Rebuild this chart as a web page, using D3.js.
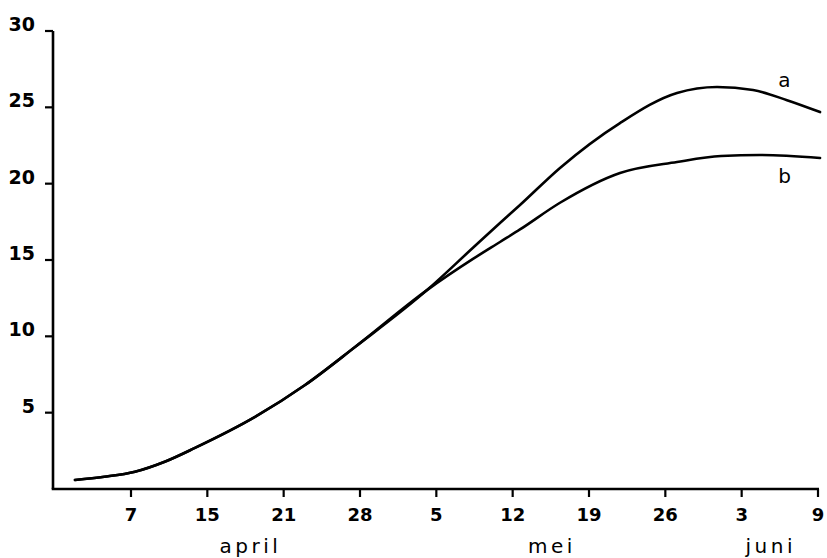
<!DOCTYPE html>
<html>
<head>
<meta charset="utf-8">
<script src="https://cdn.jsdelivr.net/npm/d3@7"></script>
<style>
  html, body { margin: 0; padding: 0; background: #fff; }
  svg { display: block; }
  text { font-family: "DejaVu Sans", "Liberation Sans", Arial, sans-serif; fill: #000; }
</style>
</head>
<body>
<svg id="chart" width="827" height="558"></svg>
<script>
// ---- data (x in tick-index units: 0 = 7 april ... 9 = 9 juni) ----
const xTickLabels = ["7", "15", "21", "28", "5", "12", "19", "26", "3", "9"];
const yTicks = [5, 10, 15, 20, 25, 30];
const monthLabels = ["april", "mei", "juni"];
const monthAt = [1.16, 5.2, 8.05];

// common part of both curves
const commonX = [-0.734, -0.35, 0.052, 0.45, 0.838, 1.625, 2.28, 2.935, 3.878];
const commonY = [0.59, 0.8, 1.13, 1.8, 2.69, 4.72, 6.81, 9.30, 13.03];
// curve a after split
const aX = [4.48, 4.834, 5.096, 5.62, 6.406, 7.153, 7.677, 8.149, 8.594, 9.027];
const aY = [15.8, 17.42, 18.6, 21.03, 23.97, 25.94, 26.33, 26.13, 25.47, 24.69];
// curve b after split
const bX = [4.48, 4.834, 5.096, 5.62, 6.406, 7.153, 7.73, 8.24, 9.027];
const bY = [15.07, 16.18, 17.0, 18.75, 20.70, 21.42, 21.81, 21.88, 21.68];
const seriesNames = ["a", "b"];
const seriesLabelAt = [[8.48, 26.33], [8.48, 20.04]];

// ---- drawing ----
const svg = d3.select("#chart");
const x = d3.scaleLinear().domain([0, 9]).range([131, 818]);
const y = d3.scaleLinear().domain([0, 30]).range([489, 31]);
const axisLeftX = 53;

const g = svg.append("g");

// y axis line
g.append("line")
  .attr("x1", axisLeftX).attr("x2", axisLeftX)
  .attr("y1", y(30)).attr("y2", y(0))
  .attr("stroke", "#000").attr("stroke-width", 2.6);
// x axis line
g.append("line")
  .attr("x1", axisLeftX - 1.3).attr("x2", x(9) + 1)
  .attr("y1", y(0)).attr("y2", y(0))
  .attr("stroke", "#000").attr("stroke-width", 2.6);

// y ticks
const yt = g.selectAll(".yt").data(yTicks).enter().append("g");
yt.append("line")
  .attr("x1", axisLeftX - 8).attr("x2", axisLeftX)
  .attr("y1", d => y(d)).attr("y2", d => y(d))
  .attr("stroke", "#000").attr("stroke-width", 2.2);
yt.append("text")
  .attr("x", 35).attr("y", d => y(d))
  .attr("text-anchor", "end")
  .attr("font-size", 19).attr("font-weight", "bold")
  .text(d => d);

// x ticks
const xt = g.selectAll(".xt").data(xTickLabels).enter().append("g");
xt.append("line")
  .attr("x1", (d, i) => x(i)).attr("x2", (d, i) => x(i))
  .attr("y1", y(0)).attr("y2", y(0) + 8)
  .attr("stroke", "#000").attr("stroke-width", 2.2);
xt.append("text")
  .attr("x", (d, i) => x(i)).attr("y", 521)
  .attr("text-anchor", "middle")
  .attr("font-size", 18).attr("font-weight", "bold")
  .text(d => d);

// month labels
g.selectAll(".month").data(monthLabels).enter().append("text")
  .attr("x", (d, i) => x(monthAt[i]))
  .attr("y", 553)
  .attr("font-size", 20)
  .attr("letter-spacing", 3.5)
  .text(d => d);

// curves
const line = d3.line()
  .x(d => x(d[0])).y(d => y(d[1]))
  .curve(d3.curveMonotoneX);

function pts(xs, ys) { return xs.map((v, i) => [v, ys[i]]); }
const common = pts(commonX, commonY);
const curveA = common.concat(pts(aX, aY));
const curveB = common.concat(pts(bX, bY));

[curveA, curveB].forEach(c => {
  g.append("path")
    .attr("d", line(c))
    .attr("fill", "none")
    .attr("stroke", "#000")
    .attr("stroke-width", 2.6)
    .attr("stroke-linecap", "round");
});

// series labels
g.selectAll(".slab").data(seriesNames).enter().append("text")
  .attr("x", (d, i) => x(seriesLabelAt[i][0]))
  .attr("y", (d, i) => y(seriesLabelAt[i][1]))
  .attr("font-size", 20)
  .text(d => d);
</script>
</body>
</html>
